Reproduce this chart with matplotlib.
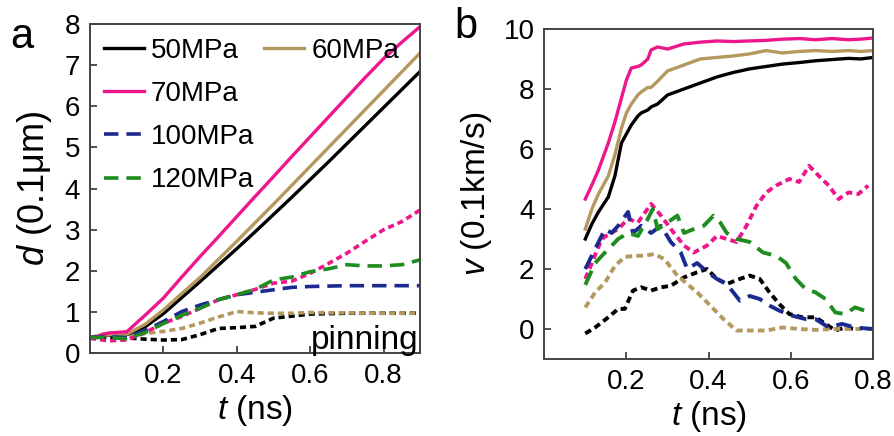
import numpy as np
import matplotlib
matplotlib.use("Agg")
import matplotlib.pyplot as plt
from matplotlib.lines import Line2D

plt.rcParams['font.family'] = ['Liberation Sans', 'DejaVu Sans']
plt.rcParams['mathtext.fontset'] = 'custom'
plt.rcParams['mathtext.rm'] = 'Liberation Sans'
plt.rcParams['mathtext.it'] = 'Liberation Sans:italic'

# colours
black = "#000000"
gold = "#B5985F"
pink = "#EE168C"
blue = "#1A2A8E"
green = "#1E8C1E"

# ---------------- panel a : displacement ----------------
t_a = [0.0, 0.05, 0.1, 0.15, 0.2, 0.25, 0.3, 0.35, 0.4, 0.45,
       0.5, 0.55, 0.6, 0.65, 0.7, 0.75, 0.8, 0.85, 0.9]

d_50 = [0.38, 0.44, 0.45, 0.64, 0.96, 1.35, 1.74, 2.14, 2.54, 2.95,
        3.37, 3.79, 4.22, 4.65, 5.09, 5.53, 5.97, 6.41, 6.85]
d_60 = [0.38, 0.45, 0.46, 0.70, 1.05, 1.45, 1.84, 2.28, 2.72, 3.17,
        3.62, 4.08, 4.54, 5.00, 5.46, 5.92, 6.38, 6.84, 7.30]
d_70 = [0.36, 0.49, 0.52, 0.92, 1.34, 1.85, 2.35, 2.83, 3.32, 3.81,
        4.29, 4.78, 5.26, 5.74, 6.22, 6.70, 7.16, 7.56, 7.94]
d_100 = [0.38, 0.40, 0.38, 0.55, 0.77, 1.01, 1.17, 1.30, 1.42, 1.48,
         1.54, 1.60, 1.62, 1.63, 1.64, 1.64, 1.64, 1.64, 1.64]
d_120 = [0.38, 0.38, 0.35, 0.50, 0.72, 0.92, 1.09, 1.30, 1.42, 1.55,
         1.78, 1.85, 1.98, 2.05, 2.15, 2.12, 2.12, 2.15, 2.27]
# dotted curves (pinned runs)
d_50p = [0.38, 0.38, 0.37, 0.34, 0.32, 0.33, 0.45, 0.60, 0.62, 0.65,
         0.85, 0.90, 0.95, 0.96, 0.97, 0.97, 0.97, 0.97, 0.97]
d_60p = [0.38, 0.50, 0.40, 0.48, 0.53, 0.60, 0.73, 0.88, 1.01, 0.98,
         0.97, 0.97, 0.99, 0.98, 0.98, 0.97, 0.97, 0.97, 0.97]
d_70p = [0.36, 0.30, 0.32, 0.50, 0.73, 0.89, 1.09, 1.30, 1.42, 1.55,
         1.70, 1.75, 1.94, 2.18, 2.43, 2.72, 3.00, 3.20, 3.48]

# ---------------- panel b : velocity ----------------
t_b = [0.1, 0.116, 0.132, 0.156, 0.172, 0.188, 0.2, 0.212, 0.228, 0.236,
       0.252, 0.26, 0.276, 0.3, 0.34, 0.38, 0.42, 0.46, 0.5, 0.54,
       0.58, 0.62, 0.66, 0.7, 0.74, 0.77, 0.8]
v_50 = [3.0, 3.5, 3.9, 4.4, 5.1, 6.2, 6.5, 6.8, 7.1, 7.2,
        7.3, 7.4, 7.5, 7.8, 8.0, 8.2, 8.4, 8.55, 8.67, 8.75,
        8.83, 8.88, 8.94, 8.98, 9.02, 9.0, 9.05]
v_60 = [3.33, 4.0, 4.5, 5.1, 5.8, 6.7, 7.2, 7.5, 7.8, 7.9,
        8.05, 8.05, 8.26, 8.6, 8.8, 9.0, 9.05, 9.1, 9.17, 9.28,
        9.2, 9.25, 9.28, 9.25, 9.28, 9.25, 9.28]
v_70 = [4.33, 4.8, 5.3, 6.2, 6.9, 7.7, 8.3, 8.7, 8.75, 8.8,
        9.0, 9.3, 9.4, 9.33, 9.5, 9.56, 9.6, 9.58, 9.6, 9.62,
        9.66, 9.68, 9.64, 9.68, 9.64, 9.66, 9.7]

t_b100 = [0.1, 0.124, 0.148, 0.164, 0.18, 0.204, 0.216, 0.236, 0.26, 0.284,
          0.308, 0.332, 0.348, 0.372, 0.396, 0.42, 0.444, 0.476, 0.5, 0.524,
          0.548, 0.572, 0.604, 0.636, 0.66, 0.692, 0.724, 0.756, 0.8]
v_100 = [2.0, 2.67, 3.33, 3.2, 3.44, 3.9, 3.2, 3.44, 3.2, 3.44,
         2.9, 2.55, 2.0, 2.2, 1.9, 1.67, 1.5, 0.94, 1.1, 1.0,
         0.78, 0.61, 0.44, 0.33, 0.33, 0.05, 0.17, 0.05, 0.0]

t_b120 = [0.1, 0.124, 0.148, 0.18, 0.204, 0.228, 0.252, 0.264, 0.276, 0.3,
          0.324, 0.34, 0.364, 0.388, 0.412, 0.428, 0.444, 0.468, 0.5, 0.532,
          0.564, 0.588, 0.612, 0.636, 0.66, 0.684, 0.708, 0.732, 0.756, 0.78]
v_120 = [1.47, 2.2, 2.55, 3.0, 3.2, 3.1, 3.67, 4.0, 3.33, 3.55,
         3.78, 3.2, 3.33, 3.44, 3.78, 3.55, 3.2, 3.0, 2.9, 2.55,
         2.44, 2.2, 1.67, 1.33, 1.22, 1.0, 0.55, 0.5, 0.72, 0.61]

t_b50p = [0.1, 0.124, 0.156, 0.18, 0.196, 0.216, 0.236, 0.26, 0.284, 0.308,
          0.34, 0.372, 0.396, 0.42, 0.444, 0.476, 0.5, 0.524, 0.548, 0.572,
          0.596, 0.628, 0.66, 0.684, 0.708, 0.732, 0.756]
v_50p = [-0.15, 0.05, 0.39, 0.67, 0.67, 1.28, 1.39, 1.28, 1.39, 1.44,
         1.72, 1.89, 2.0, 1.67, 1.5, 1.67, 1.78, 1.67, 1.22, 0.83,
         0.5, 0.39, 0.39, 0.17, -0.05, 0.05, 0.0]

t_b60p = [0.1, 0.124, 0.148, 0.172, 0.196, 0.22, 0.244, 0.268, 0.292, 0.324,
          0.348, 0.372, 0.404, 0.436, 0.468, 0.5, 0.54, 0.58, 0.62, 0.66,
          0.7, 0.74, 0.8]
v_60p = [0.72, 1.22, 1.55, 2.1, 2.4, 2.44, 2.44, 2.5, 2.33, 1.78,
         1.5, 1.22, 0.78, 0.33, -0.05, -0.05, -0.05, 0.05, 0.0, -0.03,
         0.0, 0.0, 0.0]

t_b70p = [0.1, 0.116, 0.14, 0.156, 0.18, 0.204, 0.228, 0.26, 0.284, 0.308,
          0.34, 0.364, 0.396, 0.42, 0.444, 0.468, 0.492, 0.516, 0.54, 0.564,
          0.596, 0.62, 0.644, 0.668, 0.692, 0.716, 0.74, 0.764, 0.788]
v_70p = [1.67, 2.2, 3.0, 3.15, 3.33, 3.67, 3.55, 4.17, 3.78, 3.33,
         2.78, 2.55, 2.78, 3.1, 3.0, 2.9, 3.44, 4.1, 4.55, 4.78,
         5.0, 4.9, 5.44, 5.1, 4.78, 4.33, 4.55, 4.5, 4.78]

labels = ["50MPa", "60MPa", "70MPa", "100MPa", "120MPa"]

solid_lw = 2.4
dash = (0, (4.0, 2.2))
dot = (0, (1.7, 1.1))

fig = plt.figure(figsize=(8.95, 4.36), dpi=100)
ax1 = fig.add_axes([0.1006, 0.19, 0.369, 0.755])
ax2 = fig.add_axes([0.608, 0.1766, 0.3676, 0.757])

# panel a
ax1.plot(t_a, d_50p, color=black, lw=2.6, ls=dot)
ax1.plot(t_a, d_60p, color=gold, lw=2.6, ls=dot)
ax1.plot(t_a, d_70p, color=pink, lw=2.6, ls=dot)
l50, = ax1.plot(t_a, d_50, color=black, lw=solid_lw)
l60, = ax1.plot(t_a, d_60, color=gold, lw=solid_lw)
l70, = ax1.plot(t_a, d_70, color=pink, lw=solid_lw)
l100, = ax1.plot(t_a, d_100, color=blue, lw=2.6, ls=dash)
l120, = ax1.plot(t_a, d_120, color=green, lw=2.6, ls=dash)

ax1.set_xlim(0, 0.9)
ax1.set_ylim(0, 8)
ax1.set_xticks([0.2, 0.4, 0.6, 0.8])
ax1.set_yticks(range(0, 9))
ax1.set_xlabel(r"$t$ (ns)", fontsize=24, labelpad=3)
ax1.set_ylabel(r"$d$ (0.1μm)", fontsize=26, labelpad=8)
ax1.text(0.995, -0.01, "pinning", transform=ax1.transAxes, ha="right",
         va="bottom", fontsize=24)

blank = Line2D([], [], color="none")
handles = [l50, l70, l100, l120, l60, blank, blank, blank]
names = [labels[0], labels[2], labels[3], labels[4], labels[1], "", "", ""]
ax1.legend(handles, names, ncol=2, loc="upper left",
           bbox_to_anchor=(0.025, 0.975), frameon=False, fontsize=20,
           handlelength=1.45, handletextpad=0.25, columnspacing=0.35,
           labelspacing=0.62, borderpad=0.2, borderaxespad=0)

# panel b
ax2.plot(t_b50p, v_50p, color=black, lw=2.8, ls=dot)
ax2.plot(t_b60p, v_60p, color=gold, lw=2.8, ls=dot)
ax2.plot(t_b70p, v_70p, color=pink, lw=2.8, ls=dot)
ax2.plot(t_b100, v_100, color=blue, lw=2.8, ls=dash)
ax2.plot(t_b120, v_120, color=green, lw=2.8, ls=dash)
ax2.plot(t_b, v_50, color=black, lw=solid_lw)
ax2.plot(t_b, v_60, color=gold, lw=solid_lw)
ax2.plot(t_b, v_70, color=pink, lw=solid_lw)

ax2.set_xlim(0, 0.8)
ax2.set_ylim(-1, 10)
ax2.set_xticks([0.2, 0.4, 0.6, 0.8])
ax2.set_yticks([0, 2, 4, 6, 8, 10])
ax2.set_xlabel(r"$t$ (ns)", fontsize=24, labelpad=3)
ax2.set_ylabel(r"$v$ (0.1km/s)", fontsize=24, labelpad=7)

for ax in (ax1, ax2):
    ax.tick_params(direction="in", length=5, width=1.2, labelsize=20,
                   pad=7, colors="#333333", labelcolor="black")
    for s in ax.spines.values():
        s.set_linewidth(1.4)
        s.set_color("#444444")

fig.text(0.012, 0.89, "a", fontsize=30)
fig.text(0.508, 0.912, "b", fontsize=30)

fig.savefig("out.png", dpi=100)
